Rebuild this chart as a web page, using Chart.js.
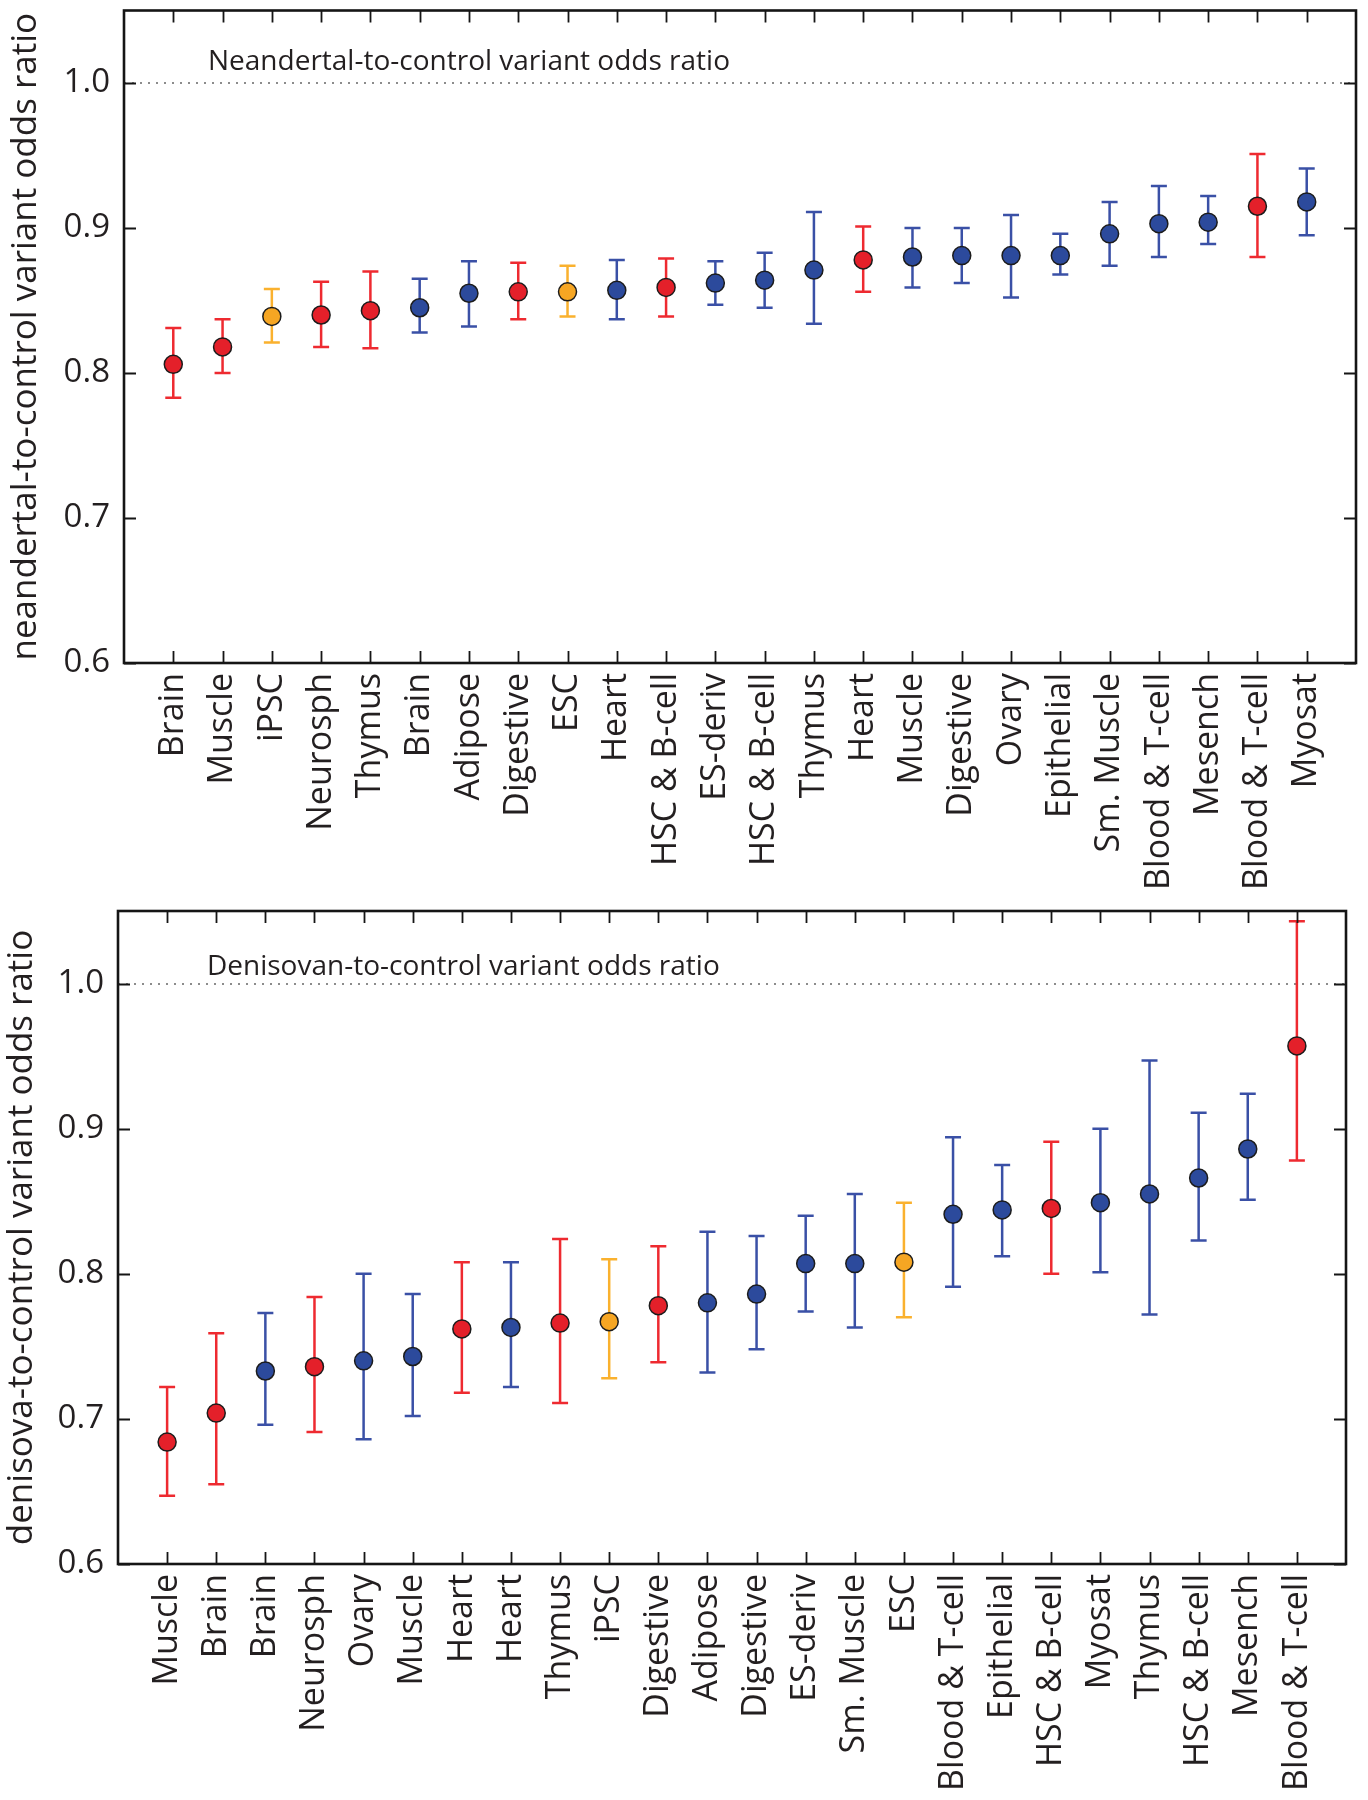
<!DOCTYPE html>
<html lang="en">
  <head>
    <meta charset="UTF-8" />
    <title>Archaic-to-control variant odds ratio by tissue</title>
    <style>
      body {
        margin: 0;
        background: #fff;
      }
      #wrap {
        position: relative;
        width: 1368px;
        height: 1800px;
      }
      canvas {
        position: absolute;
        left: 0;
      }
    </style>
  </head>
  <body>
    <div id="wrap">
      <canvas id="chart-nea" width="1368" height="912" style="top: 0"></canvas>
      <canvas id="chart-den" width="1368" height="920" style="top: 880px"></canvas>
    </div>

    <script src="https://cdn.jsdelivr.net/npm/chart.js"></script>

    <script>
      // ---- data ----
      const yTicks = [0.6, 0.7, 0.8, 0.9, 1.0];

      // Neandertal panel
      const neaLabels = ["Brain", "Muscle", "iPSC", "Neurosph", "Thymus", "Brain", "Adipose", "Digestive", "ESC", "Heart",
        "HSC & B-cell", "ES-deriv", "HSC & B-cell", "Thymus", "Heart", "Muscle", "Digestive", "Ovary", "Epithelial",
        "Sm. Muscle", "Blood & T-cell", "Mesench", "Blood & T-cell", "Myosat"];
      const neaOdds = [0.806, 0.818, 0.839, 0.840, 0.843, 0.845, 0.855, 0.856, 0.856, 0.857, 0.859, 0.862,
        0.864, 0.871, 0.878, 0.880, 0.881, 0.881, 0.881, 0.896, 0.903, 0.904, 0.915, 0.918];
      const neaLow = [0.783, 0.800, 0.821, 0.818, 0.817, 0.828, 0.832, 0.837, 0.839, 0.837, 0.839, 0.847,
        0.845, 0.834, 0.856, 0.859, 0.862, 0.852, 0.868, 0.874, 0.880, 0.889, 0.880, 0.895];
      const neaHigh = [0.831, 0.837, 0.858, 0.863, 0.870, 0.865, 0.877, 0.876, 0.874, 0.878, 0.879, 0.877,
        0.883, 0.911, 0.901, 0.900, 0.900, 0.909, 0.896, 0.918, 0.929, 0.922, 0.951, 0.941];
      const neaGroup = ["red", "red", "orange", "red", "red", "blue", "blue", "red", "orange", "blue", "red", "blue",
        "blue", "blue", "red", "blue", "blue", "blue", "blue", "blue", "blue", "blue", "red", "blue"];

      // Denisovan panel
      const denLabels = ["Muscle", "Brain", "Brain", "Neurosph", "Ovary", "Muscle", "Heart", "Heart", "Thymus", "iPSC",
        "Digestive", "Adipose", "Digestive", "ES-deriv", "Sm. Muscle", "ESC", "Blood & T-cell", "Epithelial",
        "HSC & B-cell", "Myosat", "Thymus", "HSC & B-cell", "Mesench", "Blood & T-cell"];
      const denOdds = [0.684, 0.704, 0.733, 0.736, 0.740, 0.743, 0.762, 0.763, 0.766, 0.767, 0.778, 0.780,
        0.786, 0.807, 0.807, 0.808, 0.841, 0.844, 0.845, 0.849, 0.855, 0.866, 0.886, 0.957];
      const denLow = [0.647, 0.655, 0.696, 0.691, 0.686, 0.702, 0.718, 0.722, 0.711, 0.728, 0.739, 0.732,
        0.748, 0.774, 0.763, 0.770, 0.791, 0.812, 0.800, 0.801, 0.772, 0.823, 0.851, 0.878];
      const denHigh = [0.722, 0.759, 0.773, 0.784, 0.800, 0.786, 0.808, 0.808, 0.824, 0.810, 0.819, 0.829,
        0.826, 0.840, 0.855, 0.849, 0.894, 0.875, 0.891, 0.900, 0.947, 0.911, 0.924, 1.043];
      const denGroup = ["red", "red", "blue", "red", "blue", "blue", "red", "blue", "red", "orange", "red", "blue",
        "blue", "blue", "blue", "orange", "blue", "blue", "red", "blue", "blue", "blue", "blue", "red"];

      const pointColors = { red: "#e4202a", blue: "#2c4a9c", orange: "#f6a623" };
      const barColors = { red: "#ee2a30", blue: "#3a50a6", orange: "#fab12e" };

      Chart.defaults.font.family = "'Open Sans', sans-serif";
      Chart.defaults.color = "#231f20";

      // draws the error bars, the 1.0 reference line, the box, inward ticks and the note
      function panelPlugin(low, high, group, note, noteDx, noteDy) {
        return {
          id: "panel",
          beforeDatasetsDraw(chart) {
            const { ctx, chartArea: a, scales: { x, y } } = chart;
            ctx.save();
            const y1 = Math.round(y.getPixelForValue(1.0));
            ctx.strokeStyle = "#8c8c8c";
            ctx.lineWidth = 2;
            ctx.setLineDash([2, 6]);
            ctx.beginPath();
            ctx.moveTo(a.left, y1);
            ctx.lineTo(a.right, y1);
            ctx.stroke();
            ctx.setLineDash([]);

            ctx.lineWidth = 2.5;
            low.forEach((lo, i) => {
              const px = x.getPixelForValue(i);
              const pLo = y.getPixelForValue(lo);
              const pHi = y.getPixelForValue(high[i]);
              ctx.strokeStyle = barColors[group[i]];
              ctx.beginPath();
              ctx.moveTo(px, pLo);
              ctx.lineTo(px, pHi);
              ctx.moveTo(px - 8, pLo);
              ctx.lineTo(px + 8, pLo);
              ctx.moveTo(px - 8, pHi);
              ctx.lineTo(px + 8, pHi);
              ctx.stroke();
            });
            ctx.restore();
          },
          afterDraw(chart) {
            const { ctx, chartArea: a, scales: { x, y } } = chart;
            ctx.save();
            ctx.strokeStyle = "#151515";
            ctx.lineWidth = 1.8;
            ctx.beginPath();
            x.ticks.forEach((t) => {
              const px = Math.round(x.getPixelForValue(t.value)) + 0.5;
              ctx.moveTo(px, a.bottom);
              ctx.lineTo(px, a.bottom - 12);
              ctx.moveTo(px, a.top);
              ctx.lineTo(px, a.top + 12);
            });
            y.ticks.forEach((t) => {
              const py = Math.round(y.getPixelForValue(t.value)) + 0.5;
              ctx.moveTo(a.left, py);
              ctx.lineTo(a.left + 12, py);
              ctx.moveTo(a.right, py);
              ctx.lineTo(a.right - 12, py);
            });
            ctx.stroke();

            ctx.lineWidth = 2.6;
            ctx.strokeRect(a.left, a.top, a.right - a.left, a.bottom - a.top);

            ctx.fillStyle = "#231f20";
            ctx.font = "28px 'Open Sans'";
            ctx.textBaseline = "alphabetic";
            ctx.fillText(note, a.left + noteDx, y.getPixelForValue(1.0) - noteDy);
            ctx.restore();
          },
        };
      }

      function drawPanel(id, labels, odds, low, high, group, yTitle, note, geo) {
        return new Chart(document.getElementById(id), {
          type: "scatter",
          data: {
            datasets: [
              {
                data: odds.map((v, i) => ({ x: i, y: v })),
                pointRadius: 9,
                pointHoverRadius: 9,
                pointBackgroundColor: group.map((g) => pointColors[g]),
                pointBorderColor: "#1c1c1c",
                pointBorderWidth: 1.5,
                showLine: false,
              },
            ],
          },
          options: {
            responsive: false,
            animation: false,
            events: [],
            layout: { padding: { top: geo.top, right: geo.right, left: 0, bottom: 0 } },
            plugins: { legend: { display: false }, tooltip: { enabled: false } },
            scales: {
              x: {
                type: "linear",
                min: -1,
                max: labels.length,
                afterBuildTicks: (s) => {
                  s.ticks = labels.map((_, i) => ({ value: i }));
                },
                afterFit: (s) => {
                  s.height = geo.xHeight;
                  s.paddingLeft = 0;
                  s.paddingRight = 0;
                },
                grid: { display: false, drawTicks: false },
                border: { display: false },
                ticks: {
                  autoSkip: false,
                  minRotation: 90,
                  maxRotation: 90,
                  padding: 10,
                  font: { size: 34 },
                  callback: (v) => labels[v],
                },
              },
              y: {
                min: 0.6,
                max: 1.05,
                afterBuildTicks: (s) => {
                  s.ticks = yTicks.map((v) => ({ value: v }));
                },
                afterFit: (s) => {
                  s.width = geo.yWidth;
                  s.paddingTop = 0;
                  s.paddingBottom = 0;
                },
                grid: { display: false, drawTicks: false },
                border: { display: false },
                ticks: {
                  padding: 14,
                  font: { size: 33 },
                  callback: (v) => v.toFixed(1),
                },
                title: {
                  display: true,
                  text: yTitle,
                  font: { size: 35 },
                  padding: { top: geo.titlePad, bottom: 0 },
                },
              },
            },
          },
          plugins: [panelPlugin(low, high, group, note, geo.noteDx, geo.noteDy)],
        });
      }

      drawPanel("chart-nea", neaLabels, neaOdds, neaLow, neaHigh, neaGroup,
        "neandertal-to-control variant odds ratio", "Neandertal-to-control variant odds ratio",
        { top: 8, right: 12, yWidth: 124, xHeight: 249, titlePad: 5, noteDx: 84, noteDy: 13 });

      drawPanel("chart-den", denLabels, denOdds, denLow, denHigh, denGroup,
        "denisova-to-control variant odds ratio", "Denisovan-to-control variant odds ratio",
        { top: 31, right: 22, yWidth: 118, xHeight: 236, titlePad: 1, noteDx: 89, noteDy: 9 });
    </script>
  </body>
</html>
